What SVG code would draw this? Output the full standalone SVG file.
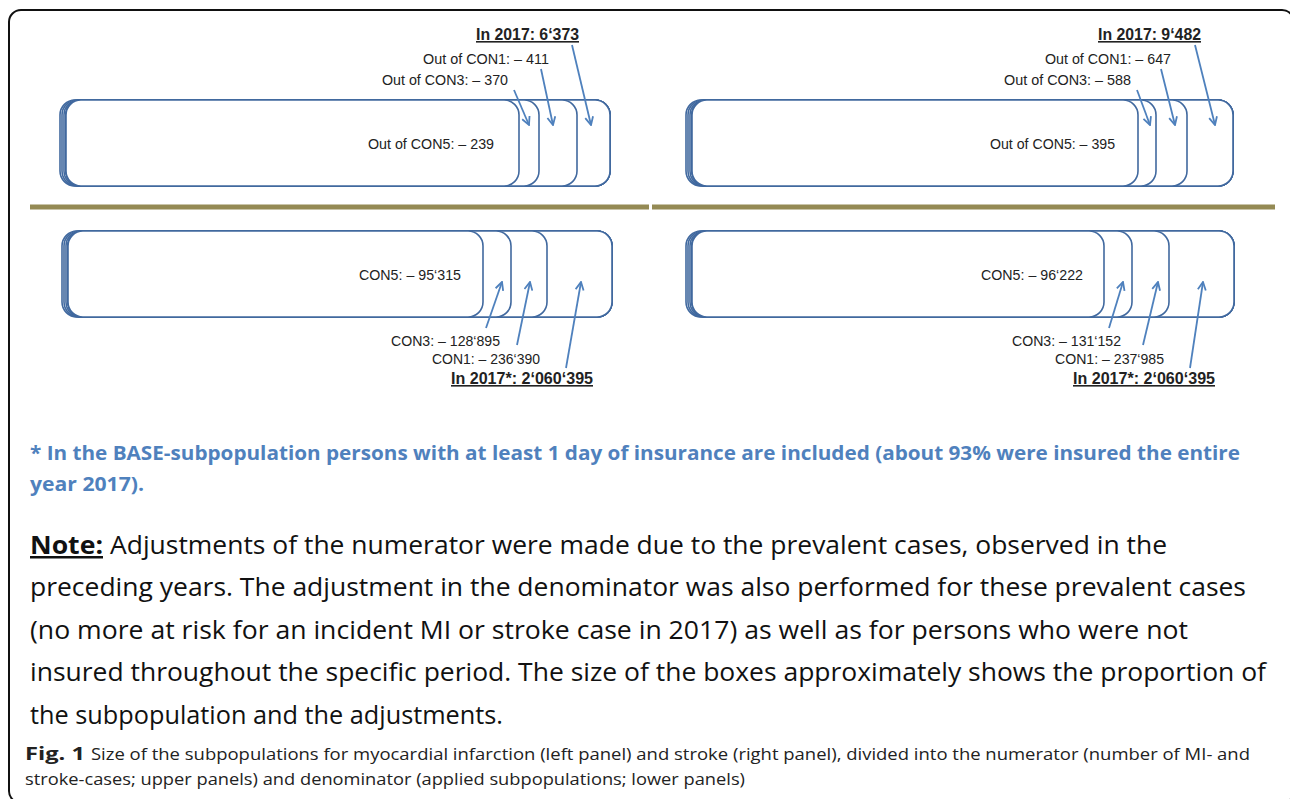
<svg xmlns="http://www.w3.org/2000/svg" width="1290" height="799" viewBox="0 0 1290 799">
<defs>
<style>
.frame{fill:none;stroke:#111;stroke-width:2}
.box{fill:#fff;stroke:#41699f;stroke-width:1.6}
.sep{stroke:#948a54;stroke-width:5}
.arr{fill:none;stroke:#4f81bd;stroke-width:1.8;marker-end:url(#ah)}
.lbl{font-family:"Liberation Sans",Arial,sans-serif;font-size:15px;fill:#222}
.ttl{font-family:"Liberation Sans",Arial,sans-serif;font-size:16px;font-weight:bold;fill:#222;text-decoration:underline}
.foot{font-family:"Open Sans","Liberation Sans",sans-serif;font-size:20px;font-weight:bold;fill:#4f81bd}
.note{font-family:"Open Sans","Liberation Sans",sans-serif;font-size:25px;fill:#111}
.cap{font-family:"Open Sans","Liberation Sans",sans-serif;font-size:17px;fill:#222}
</style>
<marker id="ah" viewBox="0 0 10 10" refX="9" refY="5" markerWidth="10" markerHeight="10" markerUnits="userSpaceOnUse" orient="auto">
<path d="M1,1 L9,5 L1,9" fill="none" stroke="#4f81bd" stroke-width="1.8"/>
</marker>
</defs>
<rect width="1290" height="799" fill="#fff"/>
<rect class="frame" x="9" y="10" width="1285" height="793" rx="12"/>

<g id="sep">
<line class="sep" x1="30" y1="207" x2="649" y2="207"/>
<line class="sep" x1="652" y1="207" x2="1275" y2="207"/>
</g>

<g id="numerator-mi">
<rect class="box" x="60" y="100" width="550" height="86" rx="15"/>
<rect class="box" x="62" y="100" width="548" height="86" rx="15"/>
<rect class="box" x="64" y="100" width="546" height="86" rx="15"/>
<rect class="box" x="66" y="100" width="544" height="86" rx="15"/>
<rect class="box" x="66" y="100" width="511" height="86" rx="15"/>
<rect class="box" x="66" y="100" width="473" height="86" rx="15"/>
<rect class="box" x="66" y="100" width="453" height="86" rx="15"/>
<text class="lbl" x="368" y="149" textLength="126" lengthAdjust="spacingAndGlyphs">Out of CON5: – 239</text>
<text class="ttl" x="476" y="40" textLength="103" lengthAdjust="spacingAndGlyphs">In 2017: 6‘373</text>
<text class="lbl" x="423" y="64" textLength="126" lengthAdjust="spacingAndGlyphs">Out of CON1: – 411</text>
<text class="lbl" x="382" y="85" textLength="126" lengthAdjust="spacingAndGlyphs">Out of CON3: – 370</text>
</g>

<g id="numerator-stroke">
<rect class="box" x="686" y="100" width="547" height="86" rx="15"/>
<rect class="box" x="688" y="100" width="545" height="86" rx="15"/>
<rect class="box" x="690" y="100" width="543" height="86" rx="15"/>
<rect class="box" x="692" y="100" width="541" height="86" rx="15"/>
<rect class="box" x="692" y="100" width="495" height="86" rx="15"/>
<rect class="box" x="692" y="100" width="464" height="86" rx="15"/>
<rect class="box" x="692" y="100" width="446" height="86" rx="15"/>
<text class="lbl" x="990" y="149" textLength="125" lengthAdjust="spacingAndGlyphs">Out of CON5: – 395</text>
<text class="ttl" x="1098" y="40" textLength="103" lengthAdjust="spacingAndGlyphs">In 2017: 9‘482</text>
<text class="lbl" x="1045" y="64" textLength="126" lengthAdjust="spacingAndGlyphs">Out of CON1: – 647</text>
<text class="lbl" x="1004" y="85" textLength="127" lengthAdjust="spacingAndGlyphs">Out of CON3: – 588</text>
</g>

<g id="denominator-mi">
<rect class="box" x="62" y="231" width="550" height="86" rx="15"/>
<rect class="box" x="64" y="231" width="548" height="86" rx="15"/>
<rect class="box" x="66" y="231" width="546" height="86" rx="15"/>
<rect class="box" x="68" y="231" width="544" height="86" rx="15"/>
<rect class="box" x="68" y="231" width="479" height="86" rx="15"/>
<rect class="box" x="68" y="231" width="443" height="86" rx="15"/>
<rect class="box" x="68" y="231" width="415" height="86" rx="15"/>
<text class="lbl" x="359" y="280" textLength="102" lengthAdjust="spacingAndGlyphs">CON5: – 95‘315</text>
<text class="lbl" x="391" y="346" textLength="109" lengthAdjust="spacingAndGlyphs">CON3: – 128‘895</text>
<text class="lbl" x="432" y="364" textLength="108" lengthAdjust="spacingAndGlyphs">CON1: – 236‘390</text>
<text class="ttl" x="451" y="384" textLength="142" lengthAdjust="spacingAndGlyphs">In 2017*: 2‘060‘395</text>
</g>

<g id="denominator-stroke">
<rect class="box" x="686" y="231" width="548" height="86" rx="15"/>
<rect class="box" x="688" y="231" width="546" height="86" rx="15"/>
<rect class="box" x="690" y="231" width="544" height="86" rx="15"/>
<rect class="box" x="692" y="231" width="542" height="86" rx="15"/>
<rect class="box" x="692" y="231" width="477" height="86" rx="15"/>
<rect class="box" x="692" y="231" width="440" height="86" rx="15"/>
<rect class="box" x="692" y="231" width="412" height="86" rx="15"/>
<text class="lbl" x="981" y="280" textLength="102" lengthAdjust="spacingAndGlyphs">CON5: – 96‘222</text>
<text class="lbl" x="1012" y="346" textLength="109" lengthAdjust="spacingAndGlyphs">CON3: – 131‘152</text>
<text class="lbl" x="1055" y="364" textLength="109" lengthAdjust="spacingAndGlyphs">CON1: – 237‘985</text>
<text class="ttl" x="1073" y="384" textLength="142" lengthAdjust="spacingAndGlyphs">In 2017*: 2‘060‘395</text>
</g>

<g id="connectors">
<line class="arr" x1="514" y1="90" x2="529" y2="125"/>
<line class="arr" x1="541" y1="69" x2="553" y2="125"/>
<line class="arr" x1="572" y1="45" x2="591" y2="125"/>
<line class="arr" x1="1137" y1="90" x2="1150" y2="125"/>
<line class="arr" x1="1161" y1="69" x2="1175" y2="125"/>
<line class="arr" x1="1195" y1="45" x2="1215" y2="125"/>
<line class="arr" x1="486" y1="328" x2="502" y2="282"/>
<line class="arr" x1="517" y1="345" x2="530" y2="282"/>
<line class="arr" x1="566" y1="368" x2="581" y2="282"/>
<line class="arr" x1="1109" y1="328" x2="1123" y2="282"/>
<line class="arr" x1="1143" y1="345" x2="1158" y2="282"/>
<line class="arr" x1="1190" y1="368" x2="1203" y2="282"/>
</g>

<g id="footnote">
<text class="foot" x="30" y="460" textLength="1210" lengthAdjust="spacingAndGlyphs">* In the BASE-subpopulation persons with at least 1 day of insurance are included (about 93% were insured the entire</text>
<text class="foot" x="30" y="491" textLength="114" lengthAdjust="spacingAndGlyphs">year 2017).</text>
</g>

<g id="note">
<text class="note" x="30" y="554" font-weight="bold" text-decoration="underline" textLength="73" lengthAdjust="spacingAndGlyphs">Note:</text>
<text class="note" x="110" y="554" textLength="1057" lengthAdjust="spacingAndGlyphs">Adjustments of the numerator were made due to the prevalent cases, observed in the</text>
<text class="note" x="30" y="596" textLength="1216" lengthAdjust="spacingAndGlyphs">preceding years. The adjustment in the denominator was also performed for these prevalent cases</text>
<text class="note" x="30" y="639" textLength="1158" lengthAdjust="spacingAndGlyphs">(no more at risk for an incident MI or stroke case in 2017) as well as for persons who were not</text>
<text class="note" x="30" y="681" textLength="1236" lengthAdjust="spacingAndGlyphs">insured throughout the specific period. The size of the boxes approximately shows the proportion of</text>
<text class="note" x="30" y="724" textLength="473" lengthAdjust="spacingAndGlyphs">the subpopulation and the adjustments.</text>
</g>

<g id="caption">
<text class="cap" x="25" y="760" font-weight="bold" font-size="18" textLength="60" lengthAdjust="spacingAndGlyphs">Fig. 1</text>
<text class="cap" x="91" y="760" textLength="1159" lengthAdjust="spacingAndGlyphs">Size of the subpopulations for myocardial infarction (left panel) and stroke (right panel), divided into the numerator (number of MI- and</text>
<text class="cap" x="25" y="785" textLength="720" lengthAdjust="spacingAndGlyphs">stroke-cases; upper panels) and denominator (applied subpopulations; lower panels)</text>
</g>
</svg>
